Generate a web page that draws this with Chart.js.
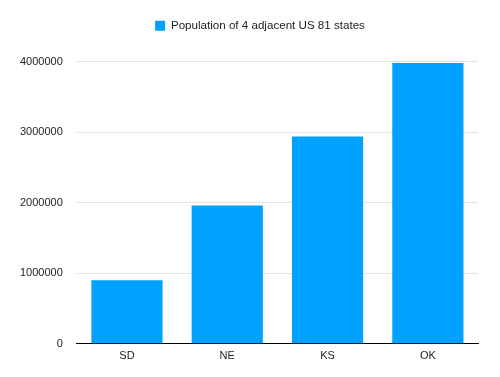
<!DOCTYPE html>
<html>
<head>
    <title>Population of 4 adjacent US states</title>
    <script src="https://cdn.jsdelivr.net/npm/chart.js"></script>
    <style>
        body { margin: 0; background: #fff; }
        .chart-container { width: 500px; height: 377px; }
    </style>
</head>
<body>
    <div class="chart-container">
        <canvas id="barChart"></canvas>
    </div>

    <script>
        const states = ['SD', 'NE', 'KS', 'OK'];
        const population = [900000, 1960000, 2940000, 3980000];
        const yTicks = [0, 1000000, 2000000, 3000000, 4000000];

        const font = "'Liberation Sans', Arial, Helvetica, sans-serif";

        // extra room under the legend, and nudge it right a bit
        const legendSpacer = {
            id: 'legendSpacer',
            beforeInit(chart) {
                const fit = chart.legend.fit;
                chart.legend.fit = function () {
                    fit.call(this);
                    this.height += 20;
                };
            },
            afterLayout(chart) {
                chart.legend.left += 18;
                chart.legend.right += 18;
            }
        };

        new Chart(document.getElementById('barChart').getContext('2d'), {
            type: 'bar',
            data: {
                labels: states,
                datasets: [{
                    label: 'Population of 4 adjacent US 81 states',
                    data: population,
                    backgroundColor: '#00a2ff',
                    borderWidth: 0,
                    barPercentage: 0.71,
                    categoryPercentage: 1
                }]
            },
            options: {
                responsive: true,
                maintainAspectRatio: false,
                animation: false,
                layout: {
                    padding: { left: 6, right: 22, top: 7, bottom: 8 }
                },
                plugins: {
                    legend: {
                        position: 'top',
                        labels: {
                            boxWidth: 10,
                            boxHeight: 10,
                            padding: 13,
                            color: '#222',
                            font: { size: 11.6, family: font }
                        }
                    },
                    tooltip: { enabled: false }
                },
                scales: {
                    x: {
                        grid: { display: false, drawTicks: false },
                        border: { color: '#000', width: 1 },
                        ticks: {
                            color: '#222',
                            padding: 6,
                            font: { size: 11, family: font }
                        }
                    },
                    y: {
                        min: 0,
                        max: 4000000,
                        afterBuildTicks: axis => {
                            axis.ticks = yTicks.map(v => ({ value: v }));
                        },
                        grid: { color: '#e2e2e2', drawTicks: false },
                        border: { display: false },
                        ticks: {
                            color: '#222',
                            padding: 14,
                            font: { size: 11, family: font },
                            callback: v => String(v)
                        }
                    }
                }
            },
            plugins: [legendSpacer]
        });
    </script>
</body>
</html>
